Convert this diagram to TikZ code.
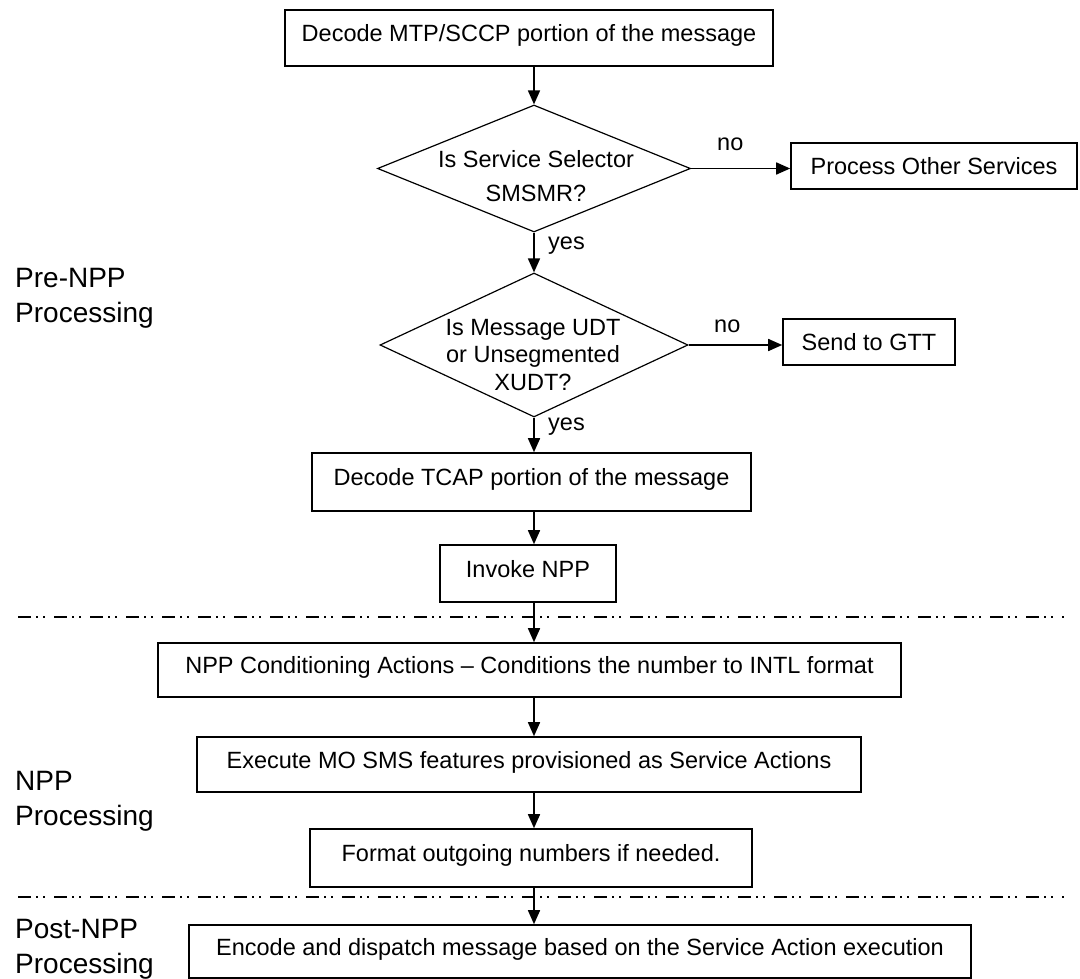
\documentclass[tikz,border=0pt]{standalone}
\usepackage{fontspec}
\setmainfont{Liberation Sans}
\usepackage{tikz}
\usetikzlibrary{shapes,arrows.meta,positioning}

\begin{document}
\begin{tikzpicture}[x=1pt, y=-1pt]
		\tikzstyle{Box}		= [rectangle, draw, line width=1.6pt, inner sep=0pt, font=\fontsize{23.5}{35}\selectfont, text height=17pt, text depth=10pt]
		\tikzstyle{Side}	= [text depth=0pt]
		\tikzstyle{Decision}	= [diamond, draw, line width=1.2pt, inner sep=0pt]
		\tikzstyle{Ask}		= [align=center, inner sep=0pt, anchor=base]
		\tikzstyle{Note}	= [anchor=base west, inner sep=0pt, font=\fontsize{23.5}{28}\selectfont]
		\tikzstyle{Phase}	= [align=left, anchor=base west, inner sep=0pt, font=\fontsize{28}{35}\selectfont]
		\tikzstyle{Flow}	= [line width=1.6pt, -{Triangle[length=14pt, width=12pt]}]
		\tikzstyle{Sep}		= [line width=1.4pt, dash pattern=on 13pt off 5pt on 2pt off 5pt on 2pt off 9pt]

		\useasboundingbox (0, 0) rectangle (1080, 979);

		% pre-NPP
		\node (mtp) at (529, 38) [Box, minimum width=488pt, minimum height=56pt] {Decode MTP/SCCP portion of the message};
		\node (dec1) at (534, 168.5) [Decision, minimum width=313pt, minimum height=127pt] {};
		\node (q1) at (536, 202) [Ask, font=\fontsize{23.5}{35}\selectfont] {Is Service Selector\\SMSMR?};
		\node (other) at (934, 166) [Box, Side, minimum width=286pt, minimum height=46pt] {Process Other Services};
		\node (dec2) at (534, 345) [Decision, minimum width=308pt, minimum height=144pt] {};
		\node (q2) at (533, 390) [Ask, font=\fontsize{23.5}{27.5}\selectfont] {Is Message UDT\\or Unsegmented\\XUDT?};
		\node (gtt) at (869, 342) [Box, Side, minimum width=172pt, minimum height=46pt] {Send to GTT};
		\node (tcap) at (531.5, 482) [Box, minimum width=439pt, minimum height=58pt] {Decode TCAP portion of the message};
		\node (inv) at (528, 573.5) [Box, minimum width=176pt, minimum height=57pt] {Invoke NPP};

		% NPP
		\node (cond) at (529.5, 670) [Box, minimum width=743pt, minimum height=54pt] {NPP Conditioning Actions -- Conditions the number to INTL format};
		\node (exec) at (529, 764.5) [Box, minimum width=664pt, minimum height=55pt] {Execute MO SMS features provisioned as Service Actions};
		\node (fmt) at (531, 858) [Box, minimum width=442pt, minimum height=58pt] {Format outgoing numbers if needed.};

		% post-NPP
		\node (enc) at (580, 951.5) [Box, minimum width=782pt, minimum height=53pt] {Encode and dispatch message based on the Service Action execution};

		\node (no1) at (717, 151) [Note] {no};
		\node (yes1) at (548, 250) [Note] {yes};
		\node (no2) at (714, 332) [Note] {no};
		\node (yes2) at (548, 430) [Note] {yes};

		\node (pre) at (15, 322) [Phase] {Pre-NPP\\Processing};
		\node (mid) at (15, 825) [Phase] {NPP\\Processing};
		\node (post) at (15, 973) [Phase] {Post-NPP\\Processing};

		\coordinate (s1a) at (18, 617);
		\coordinate (s1b) at (1064, 617);
		\coordinate (s2a) at (18, 897);
		\coordinate (s2b) at (1064, 897);
		\draw[Sep] (s1a) -- (s1b);
		\draw[Sep] (s2a) -- (s2b);

		\draw[Flow] (mtp.south -| dec1) -- (dec1.north);
		\draw[Flow] (dec1.east) -- (other.west |- dec1.east);
		\draw[Flow] (dec1.south) -- (dec2.north);
		\draw[Flow] (dec2.east) -- (gtt.west |- dec2.east);
		\draw[Flow] (dec2.south) -- (tcap.north -| dec2);
		\draw[Flow] (tcap.south -| dec2) -- (inv.north -| dec2);
		\draw[Flow] (inv.south -| dec2) -- (cond.north -| dec2);
		\draw[Flow] (cond.south -| dec2) -- (exec.north -| dec2);
		\draw[Flow] (exec.south -| dec2) -- (fmt.north -| dec2);
		\draw[Flow] (fmt.south -| dec2) -- (enc.north -| dec2);
	\end{tikzpicture}
\end{document}
